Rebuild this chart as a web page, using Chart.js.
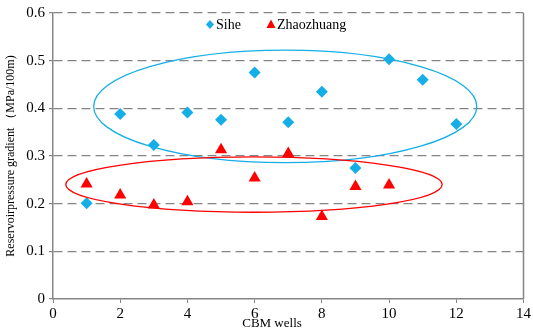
<!DOCTYPE html>
<html>
<head>
<meta charset="utf-8">
<script src="https://cdn.jsdelivr.net/npm/chart.js@4"></script>
<style>
  body { margin: 0; background: #fff; }
  #wrap { width: 533px; height: 331px; }
</style>
</head>
<body>
<div id="wrap"><canvas id="grafico"></canvas></div>
<script>
// datos
const siheWells = [1, 2, 3, 4, 5, 6, 7, 8, 9, 10, 11, 12];
const siheGradient = [0.201, 0.388, 0.323, 0.391, 0.376, 0.475, 0.371, 0.435, 0.275, 0.503, 0.460, 0.367];
const zhaoWells = [1, 2, 3, 4, 5, 6, 7, 8, 9, 10];
const zhaoGradient = [0.241, 0.218, 0.197, 0.204, 0.313, 0.254, 0.305, 0.173, 0.236, 0.239];
const xTicks = [0, 2, 4, 6, 8, 10, 12, 14];
const yTicks = [0, 0.1, 0.2, 0.3, 0.4, 0.5, 0.6];

// elipses de agrupacion: [centro x, centro y, radio x, radio y]
const siheEllipse = [6.91, 0.404, 5.70, 0.118];
const zhaoEllipse = [5.98, 0.240, 5.60, 0.058];

const SERIF = '"Liberation Serif", "Times New Roman", serif';
const BLUE = '#16AEE6';
const RED = '#FF0000';
const GRAY = '#858585';

const pairs = (xs, ys) => xs.map((x, i) => ({ x: x, y: ys[i] }));

const extras = {
    id: 'extras',
    beforeDatasetsDraw(chart) {
        // borde derecho del area
        const c = chart.ctx, a = chart.chartArea;
        c.save();
        c.strokeStyle = GRAY;
        c.lineWidth = 1.5;
        c.beginPath();
        c.moveTo(a.right, a.top); c.lineTo(a.right, a.bottom);
        c.stroke();
        c.restore();
    },
    afterDatasetsDraw(chart) {
        const ctx = chart.ctx;
        const sx = chart.scales.x, sy = chart.scales.y;
        const ellipse = (e, color) => {
            const cx = sx.getPixelForValue(e[0]);
            const cy = sy.getPixelForValue(e[1]);
            const rx = sx.getPixelForValue(e[0] + e[2]) - cx;
            const ry = cy - sy.getPixelForValue(e[1] + e[3]);
            ctx.save();
            ctx.strokeStyle = color;
            ctx.lineWidth = 1.3;
            ctx.beginPath();
            ctx.ellipse(cx, cy, rx, ry, 0, 0, Math.PI * 2);
            ctx.stroke();
            ctx.restore();
        };
        ellipse(siheEllipse, BLUE);
        ellipse(zhaoEllipse, RED);

        // leyenda
        ctx.save();
        ctx.font = '14px ' + SERIF;
        ctx.textBaseline = 'middle';
        ctx.fillStyle = BLUE;
        ctx.beginPath();
        ctx.moveTo(210, 20); ctx.lineTo(214, 24.5); ctx.lineTo(210, 29); ctx.lineTo(206, 24.5);
        ctx.closePath(); ctx.fill();
        ctx.fillStyle = RED;
        ctx.beginPath();
        ctx.moveTo(271, 19.5); ctx.lineTo(275.5, 28); ctx.lineTo(266.5, 28);
        ctx.closePath(); ctx.fill();
        ctx.fillStyle = '#000';
        ctx.fillText('Sihe', 216, 25);
        ctx.fillText('Zhaozhuang', 277, 25);

        // titulo eje x
        ctx.font = '13px ' + SERIF;
        ctx.textAlign = 'center';
        ctx.fillText('CBM wells', 272, 324);
        ctx.restore();
    }
};

const ctx = document.getElementById('grafico').getContext('2d');
new Chart(ctx, {
    type: 'scatter',
    data: {
        datasets: [{
            label: 'Sihe',
            data: pairs(siheWells, siheGradient),
            pointStyle: 'rectRot',
            pointRadius: 6,
            backgroundColor: BLUE,
            borderColor: BLUE,
            borderWidth: 0
        }, {
            label: 'Zhaozhuang',
            data: pairs(zhaoWells, zhaoGradient),
            pointStyle: 'triangle',
            pointRadius: 7,
            backgroundColor: RED,
            borderColor: RED,
            borderWidth: 0
        }]
    },
    options: {
        responsive: true,
        maintainAspectRatio: false,
        animation: false,
        layout: { padding: { top: 4, right: 8, left: 4, bottom: 0 } },
        plugins: {
            legend: { display: false },
            tooltip: { enabled: false }
        },
        scales: {
            x: {
                type: 'linear',
                min: 0,
                max: 14,
                afterBuildTicks: (axis) => { axis.ticks = xTicks.map(v => ({ value: v })); },
                afterFit: (axis) => { axis.height = 32; },
                border: { display: true, color: GRAY, width: 1.5 },
                grid: {
                    drawOnChartArea: false,
                    drawTicks: true,
                    tickLength: 4,
                    color: GRAY
                },
                ticks: {
                    color: '#000',
                    padding: 2,
                    font: { family: SERIF, size: 15 }
                }
            },
            y: {
                min: 0,
                max: 0.6,
                afterBuildTicks: (axis) => { axis.ticks = yTicks.map(v => ({ value: v })); },
                afterFit: (axis) => { axis.width = 49; },
                border: { display: true, color: GRAY, width: 1.5, dash: [9, 5] },
                grid: {
                    color: (c) => c.tick && c.tick.value === 0 ? 'rgba(0,0,0,0)' : GRAY,
                    lineWidth: 1.2,
                    tickColor: GRAY,
                    tickLength: 4,
                    tickBorderDash: [],
                    drawTicks: true
                },
                ticks: {
                    color: '#000',
                    padding: 4,
                    callback: (v) => String(Math.round(v * 10) / 10),
                    font: { family: SERIF, size: 15 }
                },
                title: {
                    display: true,
                    text: 'Reservoirpressure gradient （MPa/100m)',
                    color: '#000',
                    padding: { top: 0, bottom: 0 },
                    font: { family: SERIF, size: 12 }
                }
            }
        }
    },
    plugins: [extras]
});
</script>
</body>
</html>
